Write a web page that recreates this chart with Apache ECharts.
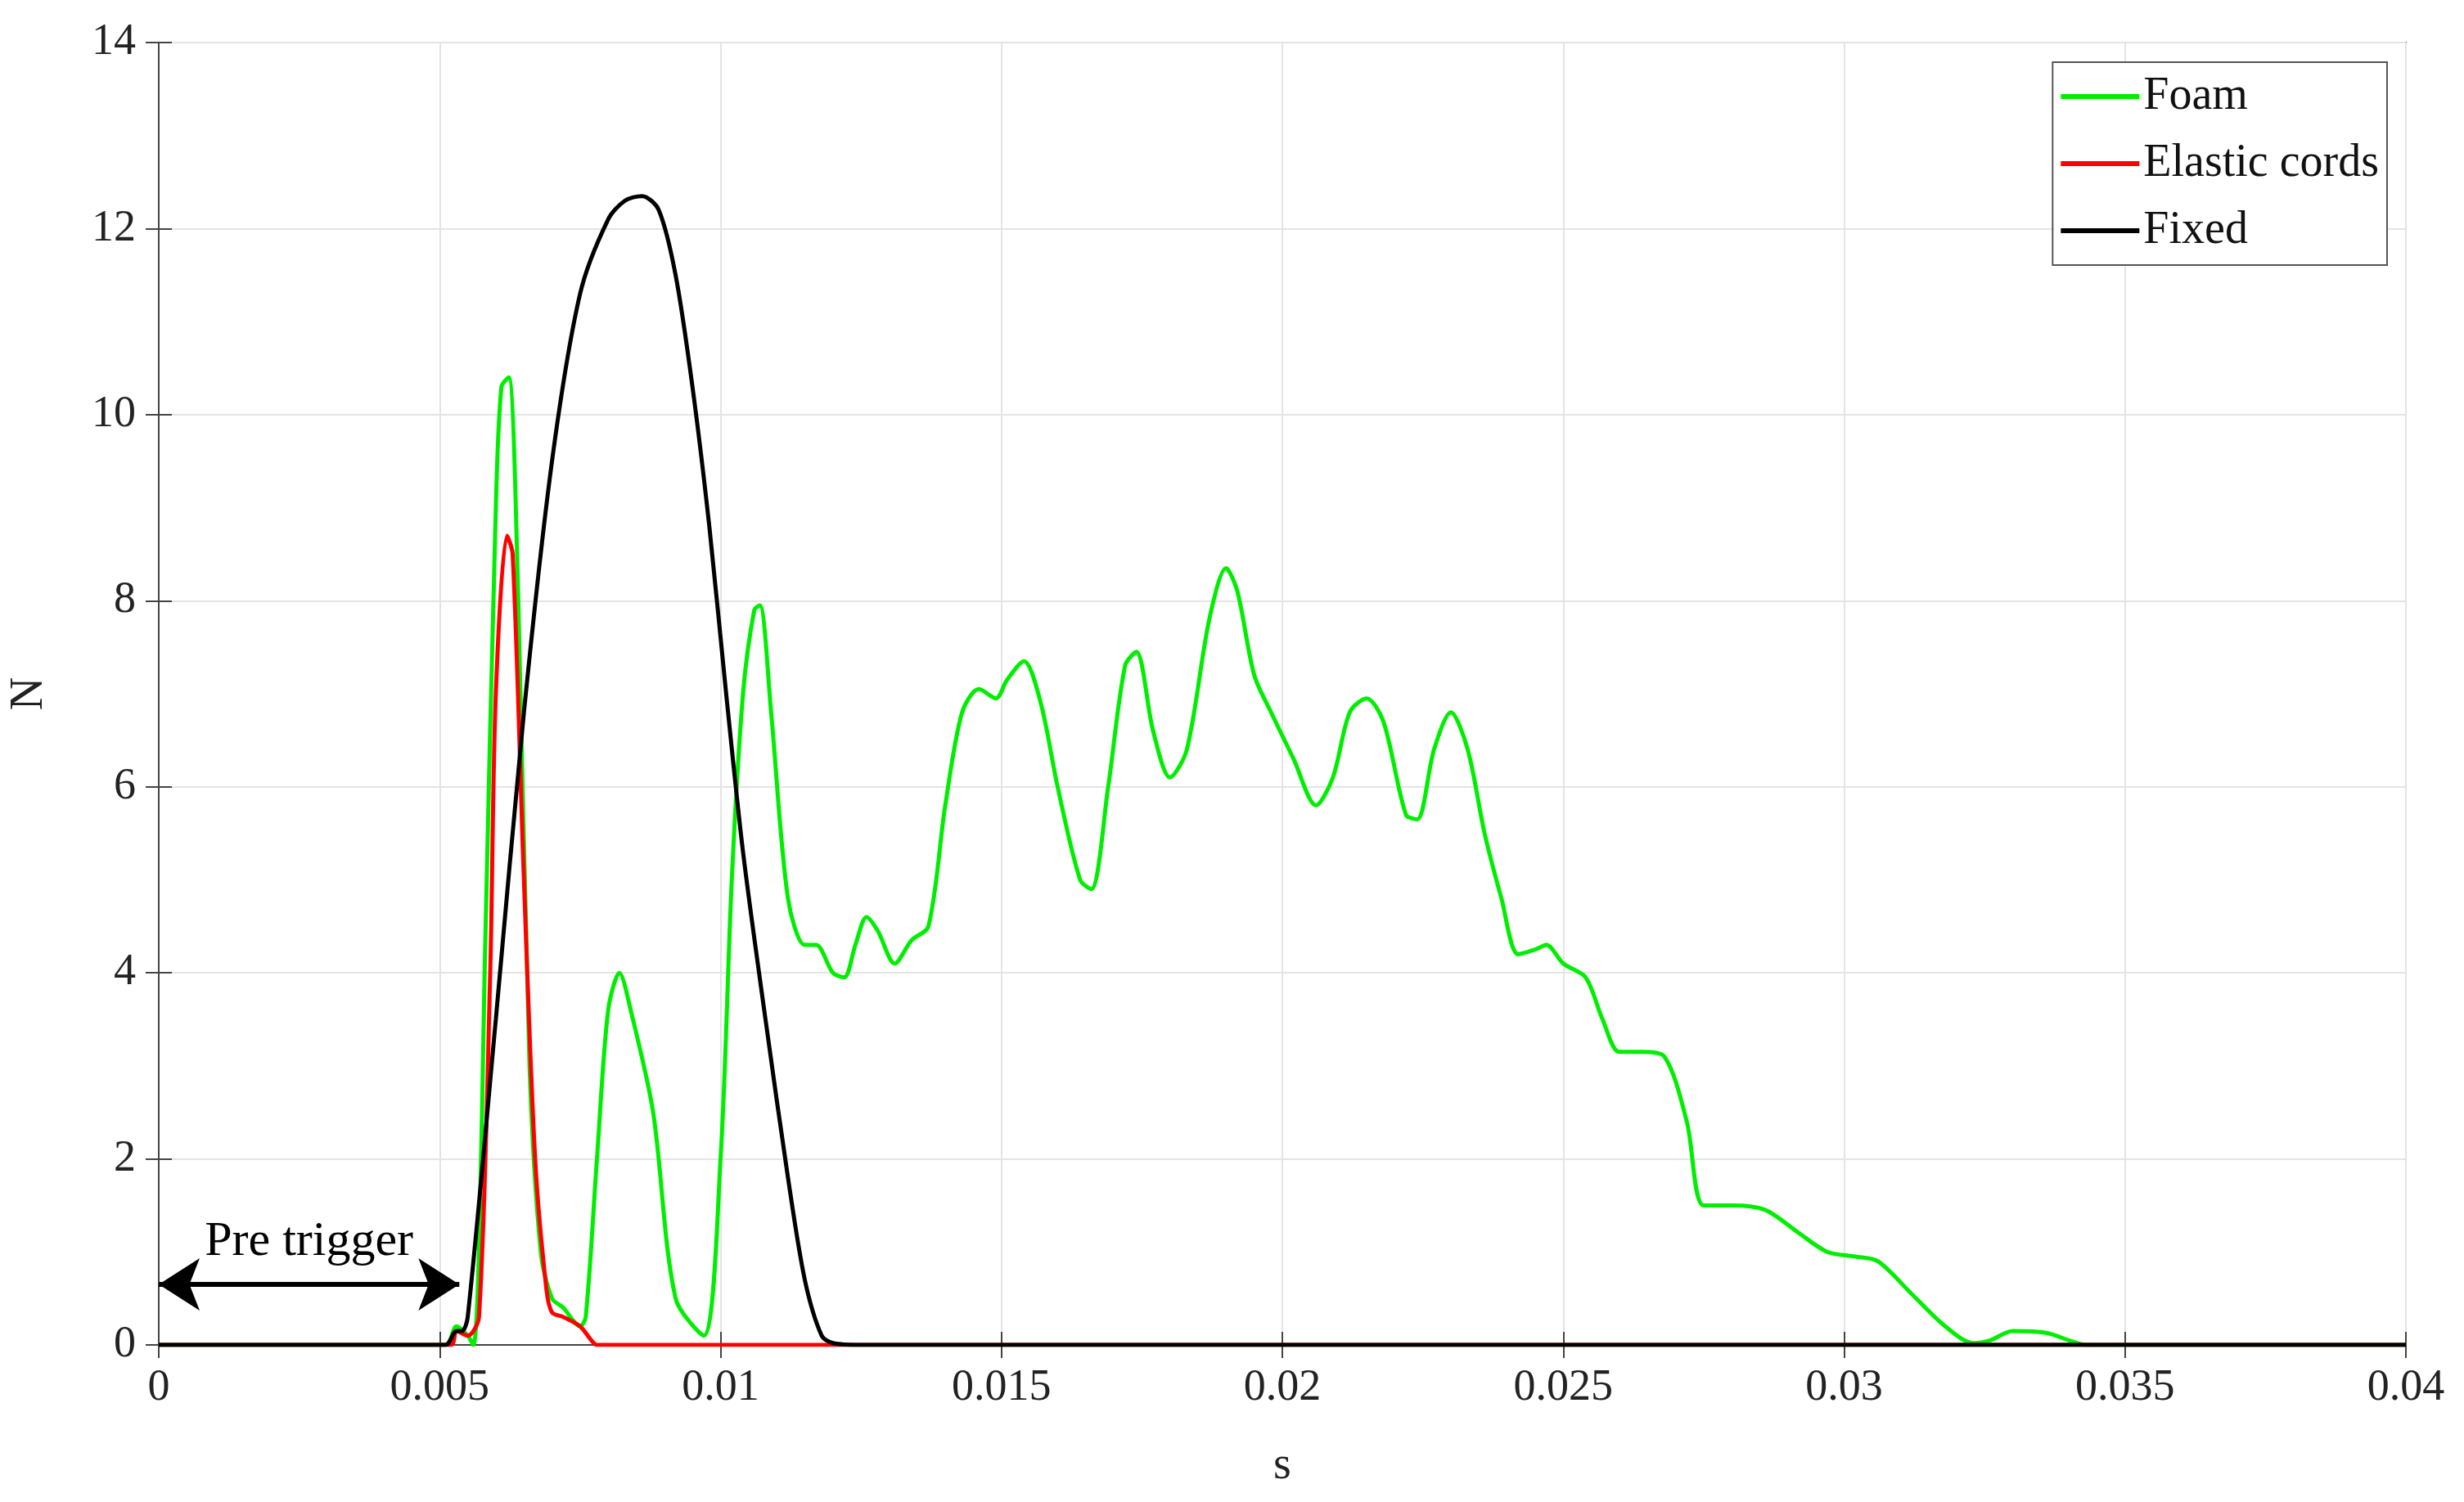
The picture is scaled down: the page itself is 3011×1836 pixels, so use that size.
<!DOCTYPE html>
<html><head><meta charset="utf-8">
<script src="https://cdn.jsdelivr.net/npm/echarts@6/dist/echarts.min.js"></script>
<style>html,body{margin:0;padding:0;background:#fff}#c{width:3011px;height:1836px}</style>
</head><body><div id="c"></div>
<script>
const foam = [[0,0],[0.0051,0],[0.0053,0.2],[0.0055,0.1],[0.0056,0],[0.0057,1],[0.0058,4],[0.006,9],[0.0061,10.3],[0.00623,10.4],[0.0064,8],[0.0066,3],[0.0068,1],[0.007,0.5],[0.0072,0.4],[0.0075,0.2],[0.0076,0.3],[0.0078,2],[0.008,3.6],[0.0082,4.0],[0.0084,3.6],[0.0088,2.5],[0.0092,0.5],[0.0097,0.1],[0.01,2],[0.0102,5],[0.0104,7],[0.0106,7.9],[0.0107,7.95],[0.0109,6.8],[0.0112,4.8],[0.0115,4.3],[0.0117,4.3],[0.012,4.0],[0.0122,3.95],[0.0124,4.3],[0.0126,4.6],[0.0128,4.45],[0.0131,4.1],[0.0134,4.35],[0.0137,4.5],[0.014,5.8],[0.0143,6.8],[0.0146,7.05],[0.0149,6.95],[0.0151,7.15],[0.0154,7.35],[0.0157,6.9],[0.016,6.0],[0.0164,5.0],[0.0166,4.9],[0.0169,6.0],[0.0172,7.3],[0.0174,7.45],[0.0177,6.6],[0.018,6.1],[0.0183,6.4],[0.0187,7.8],[0.019,8.35],[0.0192,8.1],[0.0195,7.2],[0.0198,6.8],[0.0202,6.3],[0.0206,5.8],[0.0209,6.1],[0.0212,6.8],[0.0215,6.95],[0.0218,6.7],[0.0222,5.7],[0.0224,5.65],[0.0227,6.4],[0.023,6.8],[0.0233,6.4],[0.0236,5.5],[0.0239,4.8],[0.0242,4.2],[0.0245,4.25],[0.0247,4.3],[0.025,4.1],[0.0254,3.95],[0.0257,3.5],[0.026,3.15],[0.0264,3.15],[0.0268,3.1],[0.0272,2.4],[0.0275,1.5],[0.028,1.5],[0.0286,1.45],[0.0292,1.2],[0.0297,1.0],[0.0302,0.95],[0.0306,0.9],[0.0312,0.55],[0.0318,0.2],[0.0323,0.02],[0.0326,0.05],[0.033,0.15],[0.0336,0.13],[0.034,0.05],[0.0343,0],[0.04,0]];
const elastic = [[0,0],[0.0052,0],[0.0053,0.15],[0.0055,0.1],[0.0057,0.3],[0.0059,4],[0.006,7],[0.0062,8.7],[0.0063,8.5],[0.0065,5],[0.0067,2],[0.0069,0.6],[0.007,0.35],[0.0072,0.3],[0.0075,0.2],[0.0077,0.05],[0.0078,0],[0.04,0]];
const fixed = [[0,0],[0.0051,0],[0.0053,0.15],[0.0054,0.15],[0.0055,0.3],[0.006,3.5],[0.0065,6.8],[0.007,9.5],[0.0075,11.3],[0.008,12.1],[0.0083,12.3],[0.0086,12.35],[0.0089,12.2],[0.0092,11.5],[0.0095,10.3],[0.0098,8.8],[0.0101,7],[0.0104,5.3],[0.0108,3.5],[0.0112,1.8],[0.0115,0.7],[0.0118,0.1],[0.012,0.02],[0.0125,0],[0.04,0]];
const preTrigger = [[0,0.65],[0.00535,0.65]];
const font = 'Liberation Serif';
const ch = echarts.init(document.getElementById('c'));
const ax = {axisLine:{lineStyle:{color:'#444',width:2}},axisTick:{inside:true,length:16,lineStyle:{color:'#444',width:2}}};
ch.setOption({
  animation:false,
  textStyle:{fontFamily:font},
  grid:{left:188,right:71,top:52,bottom:192,show:true,borderColor:'#444',borderWidth:2},
  legend:{right:94,top:76,orient:'vertical',itemWidth:96,itemHeight:6,itemGap:26,padding:[14,10,14,10],
    borderColor:'#555',borderWidth:2,backgroundColor:'#fff',textStyle:{fontFamily:font,fontSize:56,color:'#111'},
    icon:'rect',data:['Foam','Elastic cords','Fixed']},
  xAxis:[{type:'value',min:0,max:0.04,interval:0.005,name:'s',nameLocation:'middle',nameGap:120,
    nameTextStyle:{fontSize:56,color:'#222'},axisLabel:{fontSize:54,color:'#222',margin:26,formatter:v=>String(+v.toFixed(3))},
    splitLine:{lineStyle:{color:'#e4e4e4',width:2}},...ax},
    {type:'value',position:'top',min:0,max:0.04,interval:0.005,axisLabel:{show:false},splitLine:{show:false},...ax}],
  yAxis:[{type:'value',min:0,max:14,interval:2,name:'N',nameLocation:'middle',nameGap:130,
    nameTextStyle:{fontSize:56,color:'#222'},axisLabel:{fontSize:54,color:'#222',margin:28},
    splitLine:{lineStyle:{color:'#e4e4e4',width:2}},...ax},
    {type:'value',position:'right',min:0,max:14,interval:2,axisLabel:{show:false},splitLine:{show:false},...ax}],
  series:[
    {name:'Foam',type:'line',data:foam,symbol:'none',smooth:0.3,lineStyle:{color:'#00ee00',width:5},itemStyle:{color:'#00ee00'}},
    {name:'Elastic cords',type:'line',data:elastic,symbol:'none',smooth:0.3,lineStyle:{color:'#ff0000',width:5},itemStyle:{color:'#ff0000'}},
    {name:'Fixed',type:'line',data:fixed,symbol:'none',smooth:0.3,lineStyle:{color:'#000',width:5},itemStyle:{color:'#000'},
     markLine:{silent:true,symbol:['arrow','arrow'],symbolSize:[48,50],
       lineStyle:{color:'#000',width:6,type:'solid'},
       label:{show:true,position:'middle',formatter:'Pre trigger',fontFamily:font,fontSize:60,color:'#000',distance:22},
       data:[[{coord:preTrigger[0]},{coord:preTrigger[1]}]]}}
  ]
});
</script></body></html>
